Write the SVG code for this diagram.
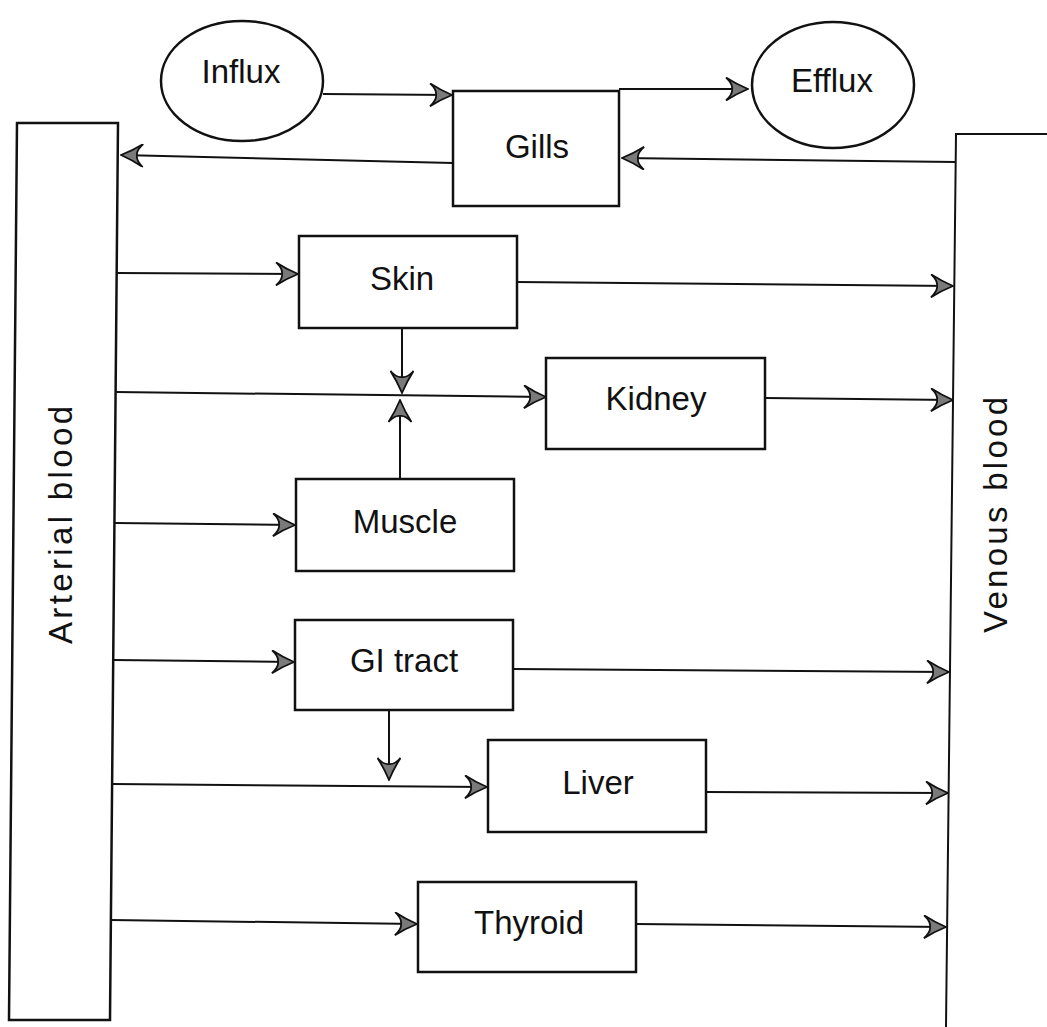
<svg xmlns="http://www.w3.org/2000/svg" width="1047" height="1027" viewBox="0 0 1047 1027">
<defs>
<style>
.box{fill:#fff;stroke:#111;stroke-width:2.5}
.ln{fill:none;stroke:#111;stroke-width:2}
.lbl{font-family:"Liberation Sans",Arial,sans-serif;font-size:33px;fill:#111;text-anchor:middle}
</style>
<marker id="arr" viewBox="0 0 24 24" markerWidth="24" markerHeight="24" refX="23" refY="12" orient="auto" markerUnits="userSpaceOnUse">
<path d="M23,12 Q11,7 1,0.5 Q8,7 7,12 Q8,17 1,23.5 Q11,17 23,12 Z" fill="#7a7a7a" stroke="#111" stroke-width="1.8" stroke-linejoin="miter"/>
</marker>
</defs>
<rect width="1047" height="1027" fill="#fff"/>

<g id="arterial">
<path class="box" d="M17,123 L118,123 L110,1020 L9,1020 Z"/>
<text class="lbl" transform="translate(72,525) rotate(-90)" textLength="238" lengthAdjust="spacing">Arterial blood</text>
</g>
<g id="venous">
<path class="ln" d="M1047,134 L956,134 L946,1027" stroke-width="2.5"/>
<text class="lbl" transform="translate(1007,515) rotate(-90)" textLength="236" lengthAdjust="spacing">Venous blood</text>
</g>
<g id="influx">
<ellipse class="box" cx="242" cy="81" rx="81" ry="60" stroke-width="2"/>
<text class="lbl" x="241" y="83">Influx</text>
</g>
<g id="efflux">
<ellipse class="box" cx="833" cy="85" rx="81" ry="63" stroke-width="2"/>
<text class="lbl" x="832" y="92">Efflux</text>
</g>
<g id="gills">
<rect class="box" x="453" y="91" width="166" height="115"/>
<text class="lbl" x="537" y="158">Gills</text>
</g>
<g id="skin">
<rect class="box" x="299" y="236" width="218" height="92"/>
<text class="lbl" x="402" y="290">Skin</text>
</g>
<g id="kidney">
<rect class="box" x="546" y="358" width="219" height="91"/>
<text class="lbl" x="656" y="410">Kidney</text>
</g>
<g id="muscle">
<rect class="box" x="296" y="479" width="218" height="92"/>
<text class="lbl" x="405" y="533">Muscle</text>
</g>
<g id="gitract">
<rect class="box" x="295" y="620" width="218" height="90"/>
<text class="lbl" x="404" y="672">GI tract</text>
</g>
<g id="liver">
<rect class="box" x="488" y="740" width="218" height="92"/>
<text class="lbl" x="598" y="794">Liver</text>
</g>
<g id="thyroid">
<rect class="box" x="418" y="882" width="218" height="90"/>
<text class="lbl" x="529" y="934">Thyroid</text>
</g>

<g id="connectors">
<path class="ln" marker-end="url(#arr)" d="M323,94 L452,95"/>
<path class="ln" marker-end="url(#arr)" d="M619,89 L748,89"/>
<path class="ln" marker-end="url(#arr)" d="M453,163 L121,155"/>
<path class="ln" marker-end="url(#arr)" d="M955,162 L622,158"/>
<path class="ln" marker-end="url(#arr)" d="M117,273 L298,274"/>
<path class="ln" marker-end="url(#arr)" d="M517,282 L953,286"/>
<path class="ln" marker-end="url(#arr)" d="M402,328 L402,393"/>
<path class="ln" marker-end="url(#arr)" d="M116,392 L546,397"/>
<path class="ln" marker-end="url(#arr)" d="M765,398 L953,400"/>
<path class="ln" marker-end="url(#arr)" d="M400,479 L400,400"/>
<path class="ln" marker-end="url(#arr)" d="M115,523 L295,525"/>
<path class="ln" marker-end="url(#arr)" d="M114,660 L294,662"/>
<path class="ln" marker-end="url(#arr)" d="M513,669 L949,672"/>
<path class="ln" marker-end="url(#arr)" d="M389,710 L389,780"/>
<path class="ln" marker-end="url(#arr)" d="M113,784 L487,787"/>
<path class="ln" marker-end="url(#arr)" d="M706,792 L948,793"/>
<path class="ln" marker-end="url(#arr)" d="M111,920 L417,924"/>
<path class="ln" marker-end="url(#arr)" d="M636,924 L946,927"/>
</g>
</svg>
